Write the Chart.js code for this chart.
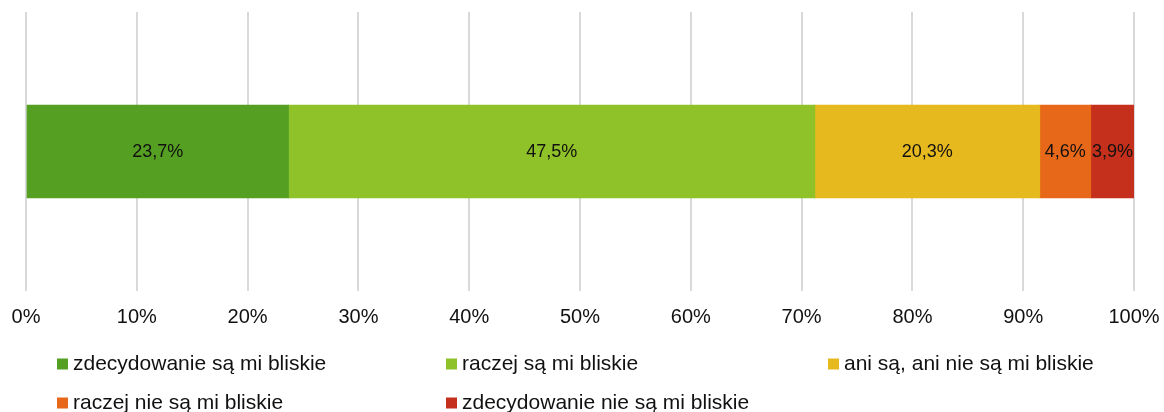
<!DOCTYPE html>
<html>
<head>
<meta charset="utf-8">
<script src="https://cdn.jsdelivr.net/npm/chart.js@4/dist/chart.umd.min.js"></script>
<style>
html,body{margin:0;padding:0;background:#fff;}
#wrap{width:1164px;height:412px;position:relative;}
</style>
</head>
<body>
<div id="wrap"><canvas id="c" width="1164" height="412"></canvas></div>
<script>
const categories = [""];
const seriesLabels = [
  "zdecydowanie są mi bliskie",
  "raczej są mi bliskie",
  "ani są, ani nie są mi bliskie",
  "raczej nie są mi bliskie",
  "zdecydowanie nie są mi bliskie"
];
const seriesValues = [23.7, 47.5, 20.3, 4.6, 3.9];
const seriesColors = ["#55A022", "#8FC128", "#E6B91E", "#E8681A", "#C4301C"];
const tickValues = [0,10,20,30,40,50,60,70,80,90,100];

const FONT = "'Liberation Sans', Arial, sans-serif";

const datasets = seriesLabels.map((lab, i) => ({
  label: lab,
  data: [seriesValues[i]],
  backgroundColor: seriesColors[i],
  borderWidth: 0,
  barThickness: 93
}));

const valueLabels = {
  id: 'valueLabels',
  afterDatasetsDraw(chart) {
    const ctx = chart.ctx;
    ctx.save();
    ctx.font = "18px " + FONT;
    ctx.fillStyle = "#111";
    ctx.textAlign = "center";
    ctx.textBaseline = "middle";
    chart.data.datasets.forEach((ds, i) => {
      const meta = chart.getDatasetMeta(i);
      meta.data.forEach((el, j) => {
        const v = ds.data[j];
        const cx = (el.x + el.base) / 2;
        ctx.fillText(v.toFixed(1).replace('.', ',') + '%', cx, el.y + 1);
      });
    });
    ctx.restore();
  }
};

const gridLegend = {
  id: 'gridLegend',
  afterDraw(chart) {
    const ctx = chart.ctx;
    const cols = [57, 446, 828];
    const rows = [364, 403];
    ctx.save();
    ctx.font = "21px " + FONT;
    ctx.textBaseline = "middle";
    ctx.textAlign = "left";
    chart.data.datasets.forEach((ds, i) => {
      const x = cols[i % 3];
      const y = rows[Math.floor(i / 3)];
      ctx.fillStyle = ds.backgroundColor;
      ctx.fillRect(x, y - 5.5, 11, 11);
      ctx.fillStyle = "#111";
      ctx.fillText(ds.label, x + 16, y);
    });
    ctx.restore();
  }
};

new Chart(document.getElementById('c'), {
  type: 'bar',
  data: { labels: categories, datasets },
  options: {
    indexAxis: 'y',
    responsive: false,
    animation: false,
    layout: { padding: { left: 26, right: 30, top: 12, bottom: 69 } },
    plugins: {
      legend: { display: false },
      tooltip: { enabled: false }
    },
    scales: {
      x: {
        stacked: true,
        min: 0, max: 100,
        afterBuildTicks(axis) { axis.ticks = tickValues.map(v => ({ value: v })); },
        afterFit(axis) { axis.paddingLeft = 0; axis.paddingRight = 0; },
        ticks: {
          callback: v => v + '%',
          font: { family: FONT, size: 20 },
          color: '#111',
          padding: 14,
          maxRotation: 0,
          autoSkip: false
        },
        grid: { color: '#d9d9d9', lineWidth: 2, drawTicks: false },
        border: { display: false }
      },
      y: {
        stacked: true,
        display: false
      }
    }
  },
  plugins: [valueLabels, gridLegend]
});
</script>
</body>
</html>
